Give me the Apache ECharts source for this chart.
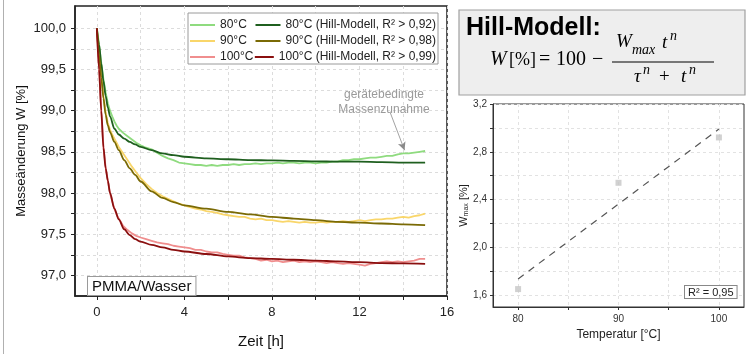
<!DOCTYPE html>
<html>
<head>
<meta charset="utf-8">
<script src="https://cdn.jsdelivr.net/npm/echarts@6/dist/echarts.min.js"></script>
<style>
  html, body { margin: 0; padding: 0; background: #fff; }
  #chart { width: 747px; height: 354px; }
</style>
</head>
<body>
<div id="chart"></div>
<script>
// measured curves (Zeit [h] -> Masseänderung W [%])
const dataTime = [0, 0.1, 0.2, 0.3, 0.4, 0.5, 0.6, 0.7, 0.8, 0.9, 1, 1.2, 1.4, 1.6, 1.8, 2, 2.25, 2.5, 2.75,
  3, 3.25, 3.5, 3.75, 4, 4.25, 4.5, 4.75, 5, 5.25, 5.5, 5.75, 6, 6.25, 6.5, 6.75, 7, 7.25, 7.5, 7.75,
  8, 8.25, 8.5, 8.75, 9, 9.25, 9.5, 9.75, 10, 10.25, 10.5, 10.75, 11, 11.25, 11.5, 11.75,
  12, 12.25, 12.5, 12.75, 13, 13.25, 13.5, 13.75, 14, 14.25, 14.5, 14.75, 15];
const w80 = [100, 99.8, 99.58, 99.38, 99.22, 99.09, 99.0, 98.93, 98.87, 98.82, 98.78, 98.73, 98.69, 98.65, 98.61, 98.58, 98.55, 98.53, 98.49,
  98.45, 98.42, 98.40, 98.37, 98.36, 98.35, 98.34, 98.34, 98.33, 98.34, 98.33, 98.34, 98.34, 98.35, 98.34, 98.35, 98.35, 98.36, 98.35, 98.36,
  98.36, 98.37, 98.36, 98.37, 98.37, 98.36, 98.37, 98.37, 98.36, 98.37, 98.37, 98.38, 98.38, 98.40, 98.40, 98.41,
  98.41, 98.42, 98.43, 98.43, 98.44, 98.45, 98.45, 98.47, 98.48, 98.48, 98.49, 98.50, 98.51];
const w90 = [100, 99.7, 99.42, 99.18, 98.98, 98.85, 98.77, 98.71, 98.66, 98.61, 98.56, 98.48, 98.40, 98.32, 98.25, 98.18, 98.11, 98.05, 98.00,
  97.96, 97.93, 97.90, 97.87, 97.85, 97.83, 97.81, 97.80, 97.78, 97.77, 97.76, 97.74, 97.73, 97.72, 97.71, 97.71, 97.69, 97.68, 97.69, 97.67,
  97.67, 97.66, 97.65, 97.66, 97.65, 97.64, 97.65, 97.64, 97.64, 97.65, 97.64, 97.65, 97.65, 97.66, 97.65, 97.66,
  97.67, 97.66, 97.67, 97.68, 97.68, 97.69, 97.69, 97.70, 97.71, 97.70, 97.72, 97.73, 97.75];
const w100 = [100, 99.5, 99.0, 98.56, 98.31, 98.15, 98.0, 97.9, 97.81, 97.74, 97.69, 97.6, 97.55, 97.51, 97.48, 97.46, 97.44, 97.42, 97.40,
  97.39, 97.38, 97.36, 97.35, 97.34, 97.33, 97.31, 97.31, 97.29, 97.28, 97.28, 97.26, 97.25, 97.24, 97.24, 97.22, 97.21, 97.20, 97.18, 97.19,
  97.17, 97.18, 97.16, 97.17, 97.18, 97.16, 97.17, 97.16, 97.17, 97.16, 97.15, 97.16, 97.15, 97.14, 97.15, 97.14,
  97.13, 97.12, 97.14, 97.15, 97.16, 97.17, 97.16, 97.17, 97.16, 97.17, 97.18, 97.20, 97.20];

// Hill-Modell fits
const fitTime = [0, 0.1, 0.2, 0.3, 0.4, 0.5, 0.6, 0.8, 1, 1.25, 1.5, 1.75, 2, 2.5, 3, 3.5, 4, 5, 6, 7, 8, 9, 10, 11, 12, 13, 14, 15];
const fit80 = [100, 99.8, 99.57, 99.36, 99.18, 99.04, 98.93, 98.78, 98.71, 98.66, 98.62, 98.59, 98.56, 98.52, 98.48, 98.46, 98.44,
  98.42, 98.41, 98.40, 98.395, 98.39, 98.385, 98.38, 98.38, 98.375, 98.37, 98.37];
const fit90 = [100, 99.68, 99.4, 99.15, 98.95, 98.82, 98.74, 98.62, 98.52, 98.40, 98.30, 98.22, 98.14, 98.02, 97.94, 97.89, 97.85,
  97.81, 97.77, 97.74, 97.71, 97.69, 97.67, 97.65, 97.64, 97.63, 97.62, 97.61];
const fit100 = [100, 99.5, 99.0, 98.55, 98.3, 98.15, 98.0, 97.81, 97.68, 97.56, 97.49, 97.44, 97.41, 97.37, 97.34, 97.31, 97.29,
  97.26, 97.23, 97.21, 97.20, 97.19, 97.18, 97.17, 97.16, 97.15, 97.145, 97.14];

const dataNames = ['80°C', '90°C', '100°C'];
const fitNames = ['80°C (Hill-Modell, R² > 0,92)', '90°C (Hill-Modell, R² > 0,98)', '100°C (Hill-Modell, R² > 0,99)'];

const xTickValues = [0, 2, 4, 6, 8, 10, 12, 14, 16];
const xLabelValues = [0, 4, 8, 12, 16];
const yTickValues = [97, 97.25, 97.5, 97.75, 98, 98.25, 98.5, 98.75, 99, 99.25, 99.5, 99.75, 100];
const yLabelValues = [97, 97.5, 98, 98.5, 99, 99.5, 100];

// annotation arrow (data coords)
const arrowFrom = [13.4, 98.98];
const arrowTo = [14.06, 98.52];

// W_max vs Temperatur
const temps = [80, 90, 100];
const wmax = [1.65, 2.54, 2.92];
const fitTemps = [80, 100];
const fitWmax = [1.735, 2.99];
const tTickValues = [80, 85, 90, 95, 100];
const tLabelValues = [80, 90, 100];
const wTickValues = [1.6, 1.8, 2.0, 2.2, 2.4, 2.6, 2.8, 3.0, 3.2];
const wLabelValues = [1.6, 2.0, 2.4, 2.8, 3.2];

const FONT = 'Liberation Sans';
const MATH = '"Liberation Serif"';
const comma = (v) => v.toFixed(1).replace('.', ',');
const pairs = (xs, ys) => xs.map((x, i) => [x, ys[i]]);

const chart = echarts.init(document.getElementById('chart'));

const lightColors = ['#8fdb7f', '#f9d66a', '#f08e8e'];
const darkColors = ['#1f5f1f', '#7a6a05', '#8a0f0f'];
const dataSets = [w80, w90, w100];
const fitSets = [fit80, fit90, fit100];

const series = [];
dataSets.forEach((d, i) => {
  const s = {
    name: dataNames[i],
    type: 'line',
    data: pairs(dataTime, d),
    xAxisIndex: 0,
    yAxisIndex: 0,
    symbol: 'none',
    lineStyle: { width: 1.8, color: lightColors[i] },
    itemStyle: { color: lightColors[i] },
    z: 2,
  };
  if (i === 0) {
    s.markLine = {
      silent: true,
      symbol: ['none', 'arrow'],
      symbolSize: [6, 8],
      label: { show: false },
      lineStyle: { color: '#8a8a8a', width: 0.8, type: 'solid' },
      data: [[{ coord: arrowFrom }, { coord: arrowTo }]],
    };
  }
  series.push(s);
});
fitSets.forEach((d, i) => {
  series.push({
    name: fitNames[i],
    type: 'line',
    data: pairs(fitTime, d),
    xAxisIndex: 0,
    yAxisIndex: 0,
    symbol: 'none',
    smooth: 0.3,
    smoothMonotone: 'x',
    lineStyle: { width: 1.8, color: darkColors[i] },
    itemStyle: { color: darkColors[i] },
    z: 3,
  });
});

// right panel
series.push({
  type: 'line',
  data: pairs(fitTemps, fitWmax),
  xAxisIndex: 1,
  yAxisIndex: 1,
  symbol: 'none',
  lineStyle: { width: 1.2, color: '#555', type: [7, 6] },
});
series.push({
  type: 'scatter',
  data: pairs(temps, wmax),
  xAxisIndex: 1,
  yAxisIndex: 1,
  symbol: 'rect',
  symbolSize: 6,
  itemStyle: { color: '#c6c6c6' },
});

const legendText = { fontSize: 12, color: '#222', fontFamily: FONT, lineHeight: 14 };
const fitLegend = (name, top, w) => ({
  data: [name], right: 311, top, orient: 'vertical', padding: 0, icon: 'rect',
  itemWidth: w, itemHeight: 2, selectedMode: false, textStyle: legendText, z: 5,
});

const gridLine = { show: true, lineStyle: { color: '#dcdcdc', type: [3, 3], width: 1 } };

const option = {
  animation: false,
  backgroundColor: '#fff',
  textStyle: { fontFamily: FONT },
  grid: [
    { left: 75, top: 6, width: 372, height: 299, show: true, borderColor: '#222', borderWidth: 1.5, backgroundColor: 'transparent' },
    { left: 493, top: 104, width: 251, height: 203, show: true, borderColor: '#333', borderWidth: 1, backgroundColor: 'transparent' },
  ],
  legend: [
    {
      data: dataNames, left: 190, top: 18, orient: 'vertical', padding: 0, itemGap: 2, icon: 'rect',
      itemWidth: 25, itemHeight: 2, selectedMode: false, textStyle: legendText, z: 5,
    },
    fitLegend(fitNames[0], 18, 25),
    fitLegend(fitNames[1], 34, 25),
    fitLegend(fitNames[2], 50, 19),
  ],
  xAxis: [
    {
      type: 'value', gridIndex: 0, min: -1, max: 16,
      name: 'Zeit [h]', nameLocation: 'middle', nameGap: 38,
      nameTextStyle: { fontSize: 15, color: '#111', fontFamily: FONT },
      axisLine: { show: true, onZero: false, lineStyle: { color: '#222', width: 1.5 } },
      axisTick: { show: true, inside: false, length: 4, customValues: xTickValues, lineStyle: { color: '#222' } },
      axisLabel: { customValues: xLabelValues, fontSize: 13, color: '#222', margin: 10, fontFamily: FONT },
      splitLine: gridLine,
    },
    {
      type: 'value', gridIndex: 1, min: 77.5, max: 102.5,
      name: 'Temperatur [°C]', nameLocation: 'middle', nameGap: 21,
      nameTextStyle: { fontSize: 12, color: '#222', fontFamily: FONT },
      axisLine: { show: true, onZero: false, lineStyle: { color: '#333', width: 1 } },
      axisTick: { show: true, length: 3, customValues: tTickValues, lineStyle: { color: '#333' } },
      axisLabel: { customValues: tLabelValues, fontSize: 10, color: '#333', margin: 7, fontFamily: FONT },
      splitLine: { show: true, lineStyle: { color: '#e2e2e2', type: [3, 3], width: 1 } },
    },
  ],
  yAxis: [
    {
      type: 'value', gridIndex: 0, min: 96.75, max: 100.27,
      name: 'Masseänderung W [%]', nameLocation: 'middle', nameGap: 47,
      nameTextStyle: { fontSize: 13, color: '#111', fontFamily: FONT },
      axisLine: { show: true, onZero: false, lineStyle: { color: '#222', width: 1.5 } },
      axisTick: { show: true, inside: false, length: 4, customValues: yTickValues, lineStyle: { color: '#222' } },
      axisLabel: { customValues: yLabelValues, fontSize: 13, color: '#222', margin: 9, formatter: comma, fontFamily: FONT },
      splitLine: gridLine,
    },
    {
      type: 'value', gridIndex: 1, min: 1.5, max: 3.2,
      name: 'W{s|max} [%]', nameLocation: 'middle', nameGap: 22,
      nameTextStyle: { fontSize: 11, color: '#222', fontFamily: FONT, rich: { s: { fontSize: 7, verticalAlign: 'bottom', fontFamily: FONT, color: '#222' } } },
      axisLine: { show: true, onZero: false, lineStyle: { color: '#333', width: 1 } },
      axisTick: { show: true, length: 3, customValues: wTickValues, lineStyle: { color: '#333' } },
      axisLabel: { customValues: wLabelValues, fontSize: 10, color: '#333', margin: 6, formatter: comma, fontFamily: FONT },
      splitLine: { show: true, lineStyle: { color: '#e2e2e2', type: [3, 3], width: 1 } },
    },
  ],
  graphic: [
    // page frame
    { type: 'line', shape: { x1: 3.5, y1: 0, x2: 3.5, y2: 354 }, style: { stroke: '#b0b0b0', lineWidth: 1 } },
    // legend box
    { type: 'rect', z: 1, shape: { x: 188, y: 13, width: 250, height: 51 }, style: { fill: '#fff', stroke: '#9a9a9a', lineWidth: 1 } },
    {
      type: 'text', z: 5,
      style: { text: 'gerätebedingte\nMassenzunahme', x: 384, y: 87, align: 'center', fill: '#9a9a9a', font: '12px "Liberation Sans"', lineHeight: 15 },
    },
    {
      type: 'text', z: 5,
      style: {
        text: 'PMMA/Wasser', x: 88, y: 277, fill: '#111', font: '15px "Liberation Sans"',
        backgroundColor: '#fff', borderColor: '#9a9a9a', borderWidth: 1, padding: [2, 4, 1, 4],
      },
    },
    {
      type: 'text', z: 5,
      style: {
        text: 'R² = 0,95', x: 685, y: 286, fill: '#222', font: '11px "Liberation Sans"',
        backgroundColor: '#fff', borderColor: '#888', borderWidth: 1, padding: [1, 3, 0, 3],
      },
    },
    // formula box
    { type: 'rect', shape: { x: 459, y: 10, width: 286, height: 85 }, style: { fill: '#eeeeee', stroke: '#a0a0a0', lineWidth: 1.2 } },
    { type: 'text', style: { text: 'Hill-Modell:', x: 466, y: 28, verticalAlign: 'middle', fill: '#000', font: 'bold 25px "Liberation Sans"' } },
    { type: 'text', style: { text: 'W', x: 490, y: 60, verticalAlign: 'middle', fill: '#000', font: 'italic 20px ' + MATH } },
    { type: 'text', style: { text: '[%]', x: 509, y: 60, verticalAlign: 'middle', fill: '#000', font: '18px ' + MATH } },
    { type: 'text', style: { text: '=', x: 539, y: 60, verticalAlign: 'middle', fill: '#000', font: '20px ' + MATH } },
    { type: 'text', style: { text: '100', x: 556, y: 60, verticalAlign: 'middle', fill: '#000', font: '20px ' + MATH } },
    { type: 'text', style: { text: '−', x: 592, y: 60, verticalAlign: 'middle', fill: '#000', font: '20px ' + MATH } },
    { type: 'line', shape: { x1: 612, y1: 62, x2: 714, y2: 62 }, style: { stroke: '#000', lineWidth: 1.2 } },
    { type: 'text', style: { text: 'W', x: 616, y: 42, verticalAlign: 'middle', fill: '#000', font: 'italic 19px ' + MATH } },
    { type: 'text', style: { text: 'max', x: 632, y: 50, verticalAlign: 'middle', fill: '#000', font: 'italic 14px ' + MATH } },
    { type: 'text', style: { text: 't', x: 662, y: 43, verticalAlign: 'middle', fill: '#000', font: 'italic 19px ' + MATH } },
    { type: 'text', style: { text: 'n', x: 670, y: 36, verticalAlign: 'middle', fill: '#000', font: 'italic 14px ' + MATH } },
    { type: 'text', style: { text: 'τ', x: 634, y: 77, verticalAlign: 'middle', fill: '#000', font: 'italic 19px ' + MATH } },
    { type: 'text', style: { text: 'n', x: 643, y: 70, verticalAlign: 'middle', fill: '#000', font: 'italic 14px ' + MATH } },
    { type: 'text', style: { text: '+', x: 659, y: 77, verticalAlign: 'middle', fill: '#000', font: '19px ' + MATH } },
    { type: 'text', style: { text: 't', x: 681, y: 77, verticalAlign: 'middle', fill: '#000', font: 'italic 19px ' + MATH } },
    { type: 'text', style: { text: 'n', x: 689, y: 70, verticalAlign: 'middle', fill: '#000', font: 'italic 14px ' + MATH } },
  ],
  series,
};

chart.setOption(option);
</script>
</body>
</html>
